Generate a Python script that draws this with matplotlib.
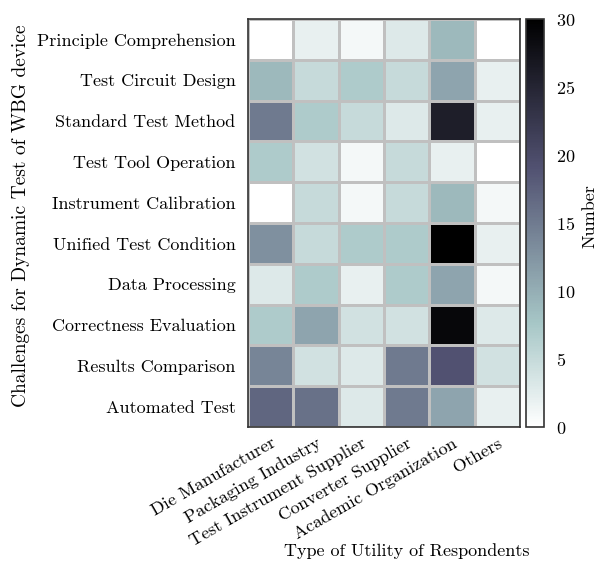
import numpy as np
import matplotlib
matplotlib.use("Agg")
import matplotlib.pyplot as plt

plt.rcParams["font.family"] = "serif"
plt.rcParams["font.serif"] = ["cmr10", "DejaVu Serif"]
plt.rcParams["axes.formatter.use_mathtext"] = True
plt.rcParams["mathtext.fontset"] = "cm"

challenges = [
    "Principle Comprehension",
    "Test Circuit Design",
    "Standard Test Method",
    "Test Tool Operation",
    "Instrument Calibration",
    "Unified Test Condition",
    "Data Processing",
    "Correctness Evaluation",
    "Results Comparison",
    "Automated Test",
]
utilities = [
    "Die Manufacturer",
    "Packaging Industry",
    "Test Instrument Supplier",
    "Converter Supplier",
    "Academic Organization",
    "Others",
]

# respondent counts per challenge (rows) and utility type (columns)
die_manufacturer = [0, 9, 15, 7, 0, 13, 3, 7, 14, 17]
packaging_industry = [2, 5, 7, 4, 5, 5, 7, 11, 4, 16]
test_instrument_supplier = [1, 7, 5, 1, 1, 7, 2, 4, 3, 3]
converter_supplier = [3, 5, 3, 5, 5, 7, 7, 4, 15, 15]
academic_organization = [9, 11, 26, 2, 9, 30, 11, 29, 19, 11]
others = [0, 2, 2, 0, 1, 2, 1, 3, 4, 2]

counts = np.array([
    die_manufacturer,
    packaging_industry,
    test_instrument_supplier,
    converter_supplier,
    academic_organization,
    others,
]).T

FS = 13
W, H = 605, 568

fig = plt.figure(figsize=(W / 100, H / 100), dpi=100)
ax = fig.add_axes([248 / W, 1 - 427 / H, 272 / W, 408 / H])
cax = fig.add_axes([526 / W, 1 - 427 / H, 18 / W, 408 / H])

mesh = ax.pcolormesh(counts, cmap="bone_r", vmin=0, vmax=30,
                     edgecolors="#c0c0c0", linewidth=0.9)
ax.set_xlim(0, counts.shape[1])
ax.set_ylim(counts.shape[0], 0)

ax.set_xticks(np.arange(counts.shape[1]) + 0.5)
ax.set_xticklabels(utilities, rotation=30, ha="right", rotation_mode="anchor",
                   fontsize=FS)
ax.set_yticks(np.arange(counts.shape[0]) + 0.5)
ax.set_yticklabels(challenges, fontsize=FS)
ax.tick_params(length=0, pad=9)
ax.tick_params(axis="x", pad=6)

for s in ax.spines.values():
    s.set_color("#333333")
    s.set_linewidth(1.2)

ax.set_xlabel("Type of Utility of Respondents", fontsize=FS)
ax.xaxis.set_label_coords(0.585, -0.285)
ax.set_ylabel("Challenges for Dynamic Test of WBG device", fontsize=14)
ax.yaxis.set_label_coords(-0.80, (427 - 216) / 408)

cb = fig.colorbar(mesh, cax=cax)
cb.set_ticks([0, 5, 10, 15, 20, 25, 30])
cb.ax.tick_params(length=0, pad=9, labelsize=FS)
cb.outline.set_edgecolor("#333333")
cb.outline.set_linewidth(1.2)
fig.text(590 / W, 1 - 216 / H, "Number", rotation=90, fontsize=FS,
         ha="center", va="center")

fig.savefig("out.png", dpi=100)
